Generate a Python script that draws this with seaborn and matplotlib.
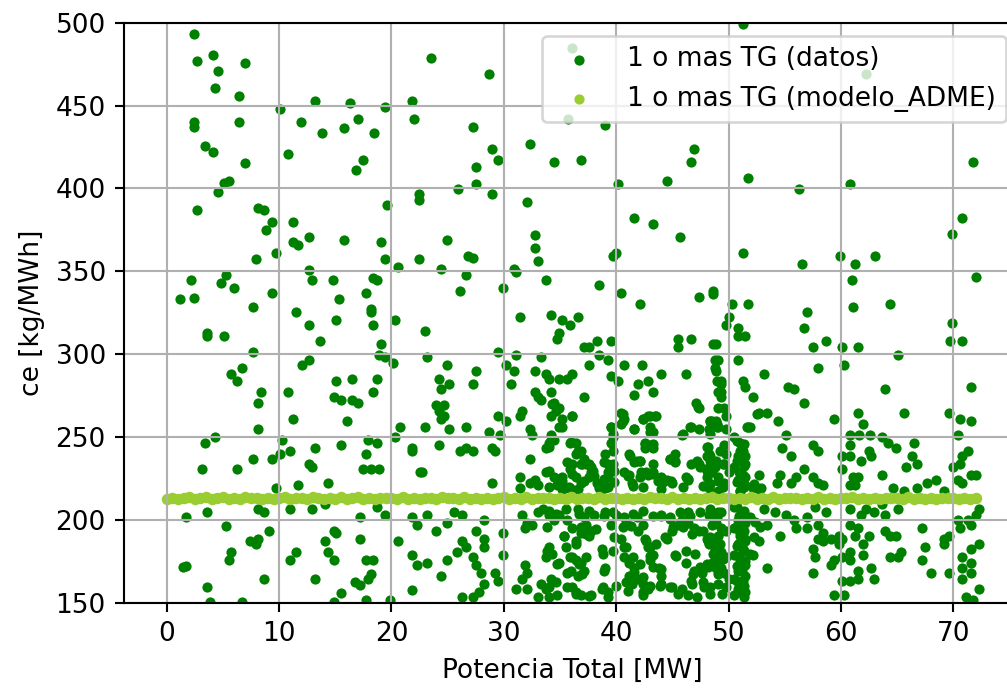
import matplotlib
matplotlib.use("Agg")
import matplotlib.pyplot as plt
import seaborn as sns

# ---------------- data (Potencia [MW], ce [kg/MWh]) ----------------
# region 0-22 MW, upper part
p_a = [2.42, 2.66, 4.09, 4.54, 6.93, 4.33, 6.45, 10.07, 13.2, 16.3,
       19.4, 21.8, 22.0, 2.42, 2.42, 6.45, 11.98, 13.86, 15.8, 17.0,
       18.46, 3.37, 4.09, 6.93, 10.8, 17.5, 16.8, 5.05, 5.53, 4.54,
       2.66, 8.12, 8.63, 9.35, 8.84, 11.24, 12.7, 11.24, 11.7, 15.8,
       19.1, 22.45, 22.45, 19.6, 7.9, 9.74, 12.7, 12.93, 19.4, 20.6,
       22.45, 5.3, 2.15, 4.8, 6.0, 9.35, 14.8, 18.4, 18.7, 17.7,
       1.22, 2.42, 15.3]
ce_a = [493, 477, 480.5, 470.6, 475.4, 460.8, 456, 448, 453, 451.5,
        449, 453, 441.6, 440, 437, 440, 440, 433.4, 436.6, 441.6,
        433.4, 425.4, 422, 415.5, 420.5, 417.3, 411, 403, 404.5, 398,
        386.7, 388.4, 386.7, 380, 375, 380, 370.4, 367.4, 365.8, 369,
        367.4, 396.6, 393, 390, 357.6, 360.8, 351, 344.7, 357.6, 352.7,
        357.6, 348, 344.7, 343, 340, 336.6, 344.7, 346, 344.7, 336.6,
        333, 334, 333]

# region 0-22 MW, lower part
p_b = [7.67, 11.5, 18.2, 18.2, 12.7, 15.1, 18.4, 20.3, 3.6, 3.6,
       5.05, 13.65, 19.1, 7.67, 18.9, 19.4, 20.1, 12.0, 12.7, 5.76,
       6.72, 6.24, 15.1, 16.5, 18.7, 8.4, 8.15, 10.8, 18.4, 14.85,
       15.55, 16.5, 17.0, 11.25, 16.0, 8.15, 20.8, 3.38, 4.33, 10.3,
       15.55, 17.95, 18.7, 20.3, 21.8, 21.8, 11.0, 13.2, 17.7, 7.68,
       9.35, 10.07, 12.7, 12.93, 3.14, 6.24, 17.5, 18.2, 18.9, 22.5,
       11.7, 14.35, 9.74, 8.15, 8.63, 3.61, 11.0, 12.93, 14.1, 18.7,
       19.4, 1.7, 17.2, 21.8, 22.25, 5.3, 14.85, 15.1, 9.1, 7.44,
       7.9, 8.15, 14.1, 17.2, 20.6, 5.76, 5.53, 11.5, 11.0, 14.35,
       14.85, 17.7, 18.4, 21.8, 22.25, 1.46, 1.7, 8.63, 13.2, 3.6,
       16.75, 17.2, 17.95, 18.2, 15.55, 21.8, 6.72, 3.85, 14.85, 17.7,
       19.85]
ce_b = [328.6, 325.4, 327, 325.4, 317.3, 320.6, 317.3, 320.6, 312.5, 311,
        311, 307.7, 306, 301.3, 299.6, 298, 294.8, 293.2, 296.4, 288.3,
        291.6, 283.5, 283.5, 285, 285, 277, 270.7, 277, 277, 274,
        272.3, 272.3, 270.7, 261, 259.4, 254.6, 256.2, 246.5, 249.7, 248.2,
        245, 248.2, 246.5, 249.7, 243.3, 241.7, 241.7, 243.3, 240, 236.9,
        236.9, 240, 233.7, 232, 230.5, 230.5, 230.5, 230.5, 230.5, 228.8,
        220.8, 222.4, 219.2, 206.3, 204.7, 204.7, 206.3, 206.3, 209.5, 208,
        203, 201.5, 201.5, 201.5, 196.6, 196.2, 193.4, 191.8, 193.4, 187,
        185.4, 188.6, 187, 188.6, 187, 180.6, 175.7, 180.6, 175.7, 180.6,
        175.7, 175.7, 175.7, 179, 172.5, 171.3, 172.1, 164.1, 164.1, 159.2,
        162.5, 160.8, 164.1, 167.3, 156, 157.6, 150.5, 150.3, 150.5, 151.6,
        151.6]

# region 22-49 MW, upper part
p_c = [23.5, 28.7, 27.3, 28.97, 29.45, 27.5, 27.5, 25.9, 28.97, 32.3,
       34.5, 36.9, 39.0, 46.9, 46.7, 44.5, 40.2, 32.1, 41.6, 43.3,
       45.7, 24.9, 32.8, 32.8, 33.0, 26.8, 27.3, 39.7, 40.0, 24.4,
       26.6, 30.9, 31.1, 33.75, 26.1, 29.9, 38.5, 40.4, 47.4, 48.6,
       48.6, 36.1, 35.7]
ce_c = [478.7, 469, 436.8, 424, 417.3, 412.7, 402.8, 399.6, 396.4, 427,
        415.7, 417.3, 438.2, 424, 415.7, 404.5, 402.8, 391.6, 381.9, 378.7,
        370.7, 369, 372, 364.2, 356.2, 359.4, 357.8, 359.4, 361, 351.3,
        348, 351.3, 349.5, 344.7, 338.3, 339.9, 341.5, 336.6, 334.2, 338.3,
        336.3, 485, 441.9]

# region 49-72 MW, upper part
p_d = [62.2, 51.3, 71.8, 51.7, 56.3, 60.8, 70.8, 69.9, 51.25, 56.5,
       59.9, 61.3, 63.0, 61.0, 72.0]
ce_d = [469, 499, 415.7, 406, 399.6, 402.8, 381.9, 372.2, 360.8, 354.4,
        359.2, 354.4, 359.2, 344.7, 346.3]

# region 49-72 MW, middle part
p_e = [50.3, 51.7, 50.05, 49.8, 50.8, 50.8, 51.5, 57.0, 56.75, 61.05,
       64.4, 69.9, 69.7, 70.8, 57.5, 58.65, 60.1, 61.5, 65.1, 50.8,
       57.95, 60.3, 53.2, 55.3, 55.8, 63.9, 71.55, 51.25, 51.5, 52.2,
       56.75, 52.7, 53.4, 59.4, 61.5, 62.0, 65.6, 69.65, 70.6, 71.55,
       51.7, 51.9, 54.4, 55.1, 61.65, 62.6, 60.8, 63.7, 64.2, 64.9,
       66.5, 70.4, 54.8, 57.5, 57.95, 55.55, 60.8, 60.8, 60.1, 61.75,
       62.5, 62.7, 66.3, 66.8, 65.8, 71.3, 70.8, 70.6, 70.0, 60.1,
       52.7, 54.6, 56.75, 56.0, 55.55, 54.35, 57.5, 57.95, 58.4, 61.05,
       61.5, 60.8, 61.3, 63.7, 64.6, 65.6, 66.8, 67.7, 68.45, 69.2,
       70.4, 70.8, 71.55, 72.0, 52.2, 52.9]
ce_e = [330.2, 330.2, 322.2, 317.3, 315.7, 311, 311, 325.4, 315.7, 328.6,
        330.2, 319, 307.7, 307.7, 304.5, 307.7, 304.5, 304.5, 299.6, 296.4,
        291.6, 293.2, 288.3, 280.3, 278.7, 278.7, 280.3, 283.5, 280.3, 273.9,
        270.7, 264.2, 264.2, 261, 264.2, 257.8, 264.2, 264.2, 261, 259.4,
        256.2, 256.2, 259.4, 251.4, 251.4, 251.4, 251.4, 249.7, 246.5, 243.3,
        246.5, 251.4, 243.3, 245, 241.7, 238.5, 245, 238.5, 238.5, 235.3,
        241.7, 238.5, 238.5, 233.7, 232, 241.7, 238.5, 233.7, 232, 230.5,
        227.2, 227.2, 230.5, 225.6, 222.4, 222.4, 225.6, 222.4, 220.8, 225.6,
        225.6, 220.8, 220.8, 227.2, 219.2, 217.6, 219.2, 222.4, 224, 217.6,
        224, 222.4, 227.2, 227.2, 219.2, 219.2]

# region 52-72 MW, lower part
p_f = [53.2, 54.1, 55.1, 55.8, 57.0, 57.0, 57.7, 58.65, 56.0, 53.4,
       57.95, 58.4, 59.1, 59.8, 54.6, 52.7, 52.2, 60.8, 61.75, 62.2,
       62.95, 63.7, 63.9, 65.1, 60.8, 61.5, 61.3, 62.5, 62.0, 63.9,
       64.4, 64.9, 67.25, 69.2, 69.65, 69.2, 70.4, 70.6, 71.55, 71.3,
       72.0, 72.3, 72.3, 71.55, 70.8, 71.55, 70.8, 71.55, 70.8, 71.1,
       71.8, 72.3, 67.5, 67.25, 68.0, 69.65, 64.4, 65.1, 65.35, 62.95,
       62.7, 62.0, 60.8, 60.8, 61.5, 61.5, 60.8, 60.1, 59.8, 60.1,
       60.1, 59.4, 60.3, 59.1, 59.4, 57.5, 57.7, 57.5, 57.95, 58.4,
       53.4]
ce_f = [206.3, 204.7, 203, 199.9, 201.5, 195, 208, 204.7, 195, 196.6,
        196.6, 191.8, 188.6, 190.2, 190.2, 187, 179, 206.3, 203, 206.3,
        204.7, 209.5, 203, 206.3, 196.6, 195, 190.2, 190.2, 185.4, 193.4,
        190.2, 190.2, 195, 188.6, 190.2, 185.4, 199.9, 195, 196.6, 199.9,
        203, 206.3, 185.4, 182.2, 177.3, 174.1, 170.9, 167.7, 164.4, 153.2,
        151.6, 158, 183.8, 175.7, 167.7, 167.7, 177.3, 177.3, 180.6, 164.4,
        170.9, 179, 180.6, 175.7, 169.3, 164.4, 162.8, 188.6, 185.4, 177.3,
        162.8, 154.8, 154.8, 172.5, 175.7, 182.2, 177.3, 167.7, 188.6, 187,
        170.9]

# dense column around 49-51.5 MW
p_g = [48.9, 49.1, 48.9, 49.3, 49.1, 49.3, 49.1, 49.6, 49.8, 48.9,
       49.1, 49.8, 49.6, 49.8, 49.6, 48.9, 50.05, 49.1, 49.6, 49.1,
       50.5, 51.0, 51.25, 50.8, 51.5, 50.5, 51.25, 50.8, 51.5, 51.0,
       50.5, 51.25, 50.8, 51.5, 50.5, 51.0, 51.5, 50.8, 51.25, 50.5,
       51.0, 51.5, 50.8, 50.5, 51.25, 50.8, 50.5, 51.5,
       49.1, 48.9, 49.3, 49.1, 49.8, 48.9, 49.3, 49.1, 49.8, 48.9,
       49.6, 50.05, 49.8, 49.1]
ce_g = [306, 296.4, 290, 283.5, 277, 274, 267.5, 267.5, 262.6, 259.4,
        256.2, 254.6, 245, 240, 233.7, 235.3, 228.8, 225.6, 222.4, 217.6,
        249.7, 246.5, 241.7, 238.5, 233.7, 232, 227.2, 224, 220.8, 217.6,
        208, 204.7, 199.9, 198.2, 195, 191.8, 188.6, 185.4, 182.2, 179,
        175.7, 172.5, 169.3, 164.4, 162.8, 158, 154.8, 156.5,
        204.7, 198.2, 195, 190.2, 193.4, 185.4, 180.6, 175.7, 177.3, 170.9,
        167.7, 164.4, 159.7, 161.3]

# region 22-49 MW, 215-330
p_h = [42.1, 31.4, 34.2, 35.2, 35.9, 36.6, 34.95, 34.7, 23.0, 37.1,
       37.6, 38.3, 39.5, 45.5, 45.5, 46.7, 48.6, 29.45, 23.2, 31.1,
       33.3, 38.5, 39.25, 37.6, 24.9, 27.5, 30.15, 30.9, 32.8, 33.75,
       33.99, 34.95, 35.65, 36.1, 40.7, 42.3, 44.0, 46.2, 48.8, 39.5,
       40.2, 41.9, 42.8, 24.2, 24.4, 25.15, 27.3, 30.65, 49.3, 33.0,
       32.8, 33.3, 34.2, 34.5, 34.95, 37.1, 41.6, 43.3, 24.0, 24.7,
       24.2, 24.7, 24.4, 31.4, 31.6, 34.2, 35.2, 34.95, 36.1, 47.1,
       47.35, 40.45, 40.7, 40.45, 42.35, 42.8, 43.5, 43.05, 43.3, 39.5,
       39.7, 41.6, 45.9, 46.65, 47.35, 48.3, 49.0, 48.55, 49.3, 49.0,
       48.8, 23.0, 25.15, 26.6, 28.7, 29.45, 30.15, 29.7, 32.3, 32.55,
       34.2, 34.2, 24.2, 26.1, 26.6, 27.3, 28.97, 29.2, 32.3, 33.75,
       34.0, 34.5, 35.9, 36.4, 36.6, 37.1, 36.85, 36.1, 35.9, 37.3,
       37.8, 37.8, 39.0, 39.25, 39.7, 39.7, 39.5, 41.1, 41.85, 42.1,
       43.3, 42.6, 42.6, 43.05, 43.3, 44.75, 45.2, 45.2, 46.65, 47.35,
       48.05, 48.3, 48.3, 48.8, 22.75, 28.97, 31.4, 31.4, 32.3, 32.8,
       33.0, 33.75, 34.45, 34.7, 35.2, 35.45, 35.9, 36.4, 36.85, 37.55,
       38.3, 38.5, 39.0, 39.25, 40.7, 41.15, 41.4, 42.1, 42.8, 43.3,
       44.0, 44.5, 45.0, 46.2, 46.4, 48.05, 48.3, 48.3]
ce_h = [330.2, 322.2, 323.8, 320.6, 317.3, 322.2, 312.5, 309.3, 314, 304.5,
        304.5, 307.7, 307.7, 309.3, 304.5, 309.3, 306, 301.3, 298, 299.6,
        298, 299.6, 296.4, 293.2, 293.2, 290, 293.2, 290, 290, 288.3,
        285.1, 285.1, 285.1, 288.3, 293.2, 293.2, 288.3, 288.3, 296.4, 286.8,
        283.5, 282, 283.5, 285.1, 278.7, 282, 282, 282, 282, 274,
        277, 272.3, 277, 270.7, 267.5, 274, 275.5, 277, 269, 269,
        265.9, 262.6, 261, 262.6, 265.9, 262.6, 261, 256.2, 262.6, 270.7,
        267.5, 264.2, 261, 257.8, 261, 262.6, 262.6, 256.2, 253, 256.2,
        249.7, 254.6, 251.4, 256.2, 254.6, 254.6, 257.8, 259.4, 277, 283.5,
        291.6, 256.2, 254.6, 256.2, 253, 262.6, 259.4, 251.4, 254.6, 251.4,
        251.4, 248.2, 245, 241.7, 243.3, 241.7, 243.3, 241.7, 236.9, 243.3,
        246.5, 248.2, 246.5, 246.5, 241.7, 236.9, 233.7, 233.7, 230.5, 233.7,
        232, 228.8, 240, 233.7, 233.7, 241.7, 246.5, 240, 235.3, 235.3,
        233.7, 246.5, 243.3, 245, 243.3, 236.9, 235.3, 240, 233.7, 233.7,
        238.5, 240, 232, 232, 228.8, 222.4, 225.6, 219.2, 222.4, 224,
        220.8, 228.8, 225.6, 220.8, 225.6, 219.2, 219.2, 225.6, 222.4, 225.6,
        222.4, 219.2, 219.2, 225.6, 228.8, 227.2, 222.4, 225.6, 227.2, 228.8,
        225.6, 224, 222.4, 225.6, 224, 225.6, 222.4, 219.2]

# region 22-49 MW, 150-210
p_i = [23.2, 25.6, 26.3, 24.9, 24.0, 28.25, 27.5, 28.25, 28.25, 26.3,
       26.6, 25.85, 24.9, 23.2, 24.4, 27.3, 27.5, 28.0, 28.25, 27.8,
       27.3, 26.3, 29.2, 29.45, 29.9, 29.9, 31.6, 32.1, 31.85, 32.55,
       33.0, 31.85, 32.1, 31.6, 31.1, 32.1, 33.3, 33.75, 33.0, 34.0,
       34.7, 34.0, 33.75, 34.2, 34.95, 33.5, 34.0, 34.45, 34.95, 35.65,
       35.4, 36.1, 36.4, 36.6, 37.1, 37.35, 37.55, 36.85, 37.8, 38.05,
       35.9, 36.4, 36.85, 37.1, 36.6, 35.65, 36.1, 36.4, 36.85, 37.8,
       38.75, 39.0, 38.75, 39.25, 39.0, 39.95, 39.5, 40.7, 40.9, 40.45,
       40.9, 40.7, 41.15, 41.6, 41.15, 41.85, 41.4, 42.35, 41.85, 42.35,
       42.6, 42.8, 43.3, 43.05, 43.8, 44.0, 42.35, 42.8, 44.0, 45.0,
       45.9, 44.0, 44.75, 44.5, 45.0, 45.5, 45.9, 46.4, 45.2, 46.2,
       46.9, 47.6, 46.65, 47.85, 46.4, 47.35, 48.05, 48.3, 48.8, 49.0,
       48.55, 49.3, 48.55, 49.0, 49.3, 48.3, 46.9, 46.4]
ce_i = [203, 204.7, 203, 198.2, 193.4, 199.9, 193.4, 188.6, 183.8, 187,
        183.8, 180.6, 175.7, 174.1, 166, 177.3, 172.5, 167.7, 161.3, 156.3,
        153.2, 153.2, 167.7, 162.8, 179, 191.8, 203, 198.2, 195, 196.6,
        204.7, 172.5, 167.7, 164.4, 158, 158, 161.3, 158, 153.2, 153.2,
        154.8, 183.8, 177.3, 164.4, 174.1, 206.3, 203, 199.9, 203, 199.9,
        190.2, 195, 185.4, 206.3, 201.5, 196.6, 190.2, 191.8, 193.4, 203,
        177.3, 175.7, 174.1, 169.3, 166, 167.7, 159.7, 156.5, 154.8, 154.8,
        182.2, 170.9, 158, 156.5, 204.7, 203, 196.6, 201.5, 198.2, 188.6,
        183.8, 177.3, 174.1, 170.9, 166, 164.4, 161.3, 161.3, 201.5, 196.6,
        188.6, 183.8, 179, 175.7, 170.9, 166, 154.8, 158, 161.3, 159.7,
        158, 203, 201.5, 188.6, 193.4, 196.6, 199.9, 204.7, 179, 174.1,
        169.3, 167.7, 162.8, 159.7, 154.8, 193.4, 188.6, 185.4, 182.2, 177.3,
        174.1, 170.9, 196.6, 201.5, 204.7, 203, 195, 198.2]

# dense core 34-48 MW, 150-270 (second reading)
p_j = [34.32, 36.11, 34.61, 35.21, 34.02, 35.96, 39.54, 39.69, 40.59, 40.59,
       41.63, 42.38, 42.98, 43.58, 42.98, 42.53, 43.28, 45.96, 46.56, 47.31,
       48.35, 48.35, 48.06, 35.66, 36.41, 36.85, 37.0, 37.6, 37.9, 36.11,
       34.76, 34.02, 35.21, 37.15, 38.05, 38.95, 39.24, 38.95, 39.84, 41.19,
       41.63, 42.08, 41.04, 42.23, 42.68, 43.28, 43.72, 44.17, 44.92, 44.77,
       45.22, 46.41, 47.16, 47.46, 48.06, 48.35, 34.02, 35.21, 35.81, 36.56,
       38.65, 39.24, 39.84, 41.48, 42.38, 44.02, 45.96, 47.76, 34.02, 34.61,
       35.51, 36.71, 37.6, 38.95, 39.69, 41.48, 42.38, 43.28, 44.02, 44.77,
       45.67, 46.56, 47.46, 48.35, 33.87, 35.36, 36.85, 37.3, 36.41, 38.2,
       40.59, 39.84, 41.33, 41.93, 42.68, 42.98, 43.58, 44.32, 45.07, 45.96,
       46.71, 47.76, 48.2, 34.32, 35.51, 36.11, 36.71, 37.3, 37.0, 35.96,
       34.76, 33.87, 38.8, 39.69, 40.74, 41.48, 42.08, 41.63, 42.38, 42.98,
       43.28, 44.02, 45.37, 46.26, 47.01, 47.46, 46.86, 48.06, 34.61, 34.02,
       35.66, 36.41, 37.6, 38.95, 38.8, 39.24, 39.99, 40.89, 41.04, 42.38,
       42.98, 43.87, 44.77, 45.52, 46.71, 47.76, 48.35, 47.16]
ce_j = [269.9, 262.8, 265.9, 255.8, 243.7, 246.8, 255.8, 251.8, 263.9, 259.8,
        254.8, 260.8, 262.8, 262.8, 252.8, 245.7, 245.7, 251.8, 255.8, 267.9,
        259.8, 251.8, 243.7, 234.7, 239.7, 241.7, 233.7, 233.7, 229.7, 227.6,
        224.6, 229.7, 223.6, 223.6, 226.6, 234.7, 228.6, 224.6, 229.7, 238.7,
        234.7, 235.7, 226.6, 228.6, 228.6, 227.6, 223.6, 222.6, 223.6, 236.7,
        234.7, 224.6, 235.7, 231.7, 229.7, 238.7, 219.6, 218.6, 219.6, 218.6,
        218.6, 219.6, 222.6, 220.6, 219.6, 218.6, 219.6, 220.6, 205.5, 203.5,
        206.5, 203.5, 205.5, 202.5, 204.5, 203.5, 205.5, 202.5, 202.5, 200.5,
        204.5, 202.5, 204.5, 206.5, 195.5, 190.4, 195.5, 191.4, 187.4, 194.5,
        195.5, 189.4, 196.5, 193.4, 187.4, 183.4, 185.4, 189.4, 195.5, 195.5,
        191.4, 193.4, 187.4, 179.4, 183.4, 177.4, 173.3, 177.4, 167.3, 169.3,
        173.3, 181.4, 179.4, 181.4, 183.4, 177.4, 173.3, 168.3, 165.3, 178.4,
        171.3, 170.3, 178.4, 181.4, 179.4, 171.3, 167.3, 173.3, 162.3, 159.3,
        159.3, 155.2, 154.2, 169.3, 159.3, 153.2, 160.3, 162.3, 157.2, 156.2,
        160.3, 160.3, 159.3, 155.2, 161.3, 162.3, 155.2, 153.2]

# dense column 48-53 MW (second reading)
p_k = [50.75, 51.35, 51.05, 51.5, 50.75, 51.35, 50.9, 51.5, 50.75, 51.35,
       51.05,
       50.75, 51.35, 50.9, 51.5, 50.75, 51.35, 51.05, 51.5, 50.75, 51.35,
       50.9, 51.5, 50.75, 51.2, 51.5, 50.75, 51.35, 50.9, 51.35,
       48.36, 48.95, 48.21, 49.25, 48.36, 49.55, 48.51, 49.1, 48.36, 49.55,
       48.66, 49.4, 48.36, 49.25, 48.66, 49.55, 48.21, 49.1, 48.36, 49.4,
       52.54, 51.64, 52.24, 52.69, 51.94, 52.39, 52.84, 51.94, 52.24]
ce_k = [247.8, 245.7, 241.7, 238.7, 235.7, 232.7, 228.6, 225.6, 222.6, 219.6,
        217.6,
        207.5, 205.5, 202.5, 199.5, 196.5, 193.4, 190.4, 187.4, 184.4, 181.4,
        178.4, 175.3, 172.3, 169.3, 166.3, 163.3, 160.3, 156.2, 153.2,
        259.8, 255.8, 243.7, 241.7, 235.7, 233.7, 228.6, 223.6, 221.6, 219.6,
        197.5, 193.4, 189.4, 185.4, 179.4, 176.3, 171.3, 167.3, 159.3, 155.2,
        263.9, 255.8, 221.6, 218.6, 201.5, 198.5, 195.5, 179.4, 189.4]

potencia_datos = p_a + p_b + p_c + p_d + p_e + p_f + p_g + p_h + p_i + p_j + p_k
ce_datos = ce_a + ce_b + ce_c + ce_d + ce_e + ce_f + ce_g + ce_h + ce_i + ce_j + ce_k
assert len(potencia_datos) == len(ce_datos)

# model (modelo_ADME): nearly constant ce over the power range
potencia_modelo = [
    0.0, 0.5, 1.0, 1.5, 2.0, 2.5, 3.0, 3.5, 4.0, 4.5,
    5.0, 5.5, 6.0, 6.5, 7.0, 7.5, 8.0, 8.5, 9.0, 9.5,
    10.0, 10.5, 11.0, 11.5, 12.0, 12.5, 13.0, 13.5, 14.0, 14.5,
    15.0, 15.5, 16.0, 16.5, 17.0, 17.5, 18.0, 18.5, 19.0, 19.5,
    20.0, 20.5, 21.0, 21.5, 22.0, 22.5, 23.0, 23.5, 24.0, 24.5,
    25.0, 25.5, 26.0, 26.5, 27.0, 27.5, 28.0, 28.5, 29.0, 29.5,
    30.0, 30.5, 31.0, 31.5, 32.0, 32.5, 33.0, 33.5, 34.0, 34.5,
    35.0, 35.5, 36.0, 36.5, 37.0, 37.5, 38.0, 38.5, 39.0, 39.5,
    40.0, 40.5, 41.0, 41.5, 42.0, 42.5, 43.0, 43.5, 44.0, 44.5,
    45.0, 45.5, 46.0, 46.5, 47.0, 47.5, 48.0, 48.5, 49.0, 49.5,
    50.0, 50.5, 51.0, 51.5, 52.0, 52.5, 53.0, 53.5, 54.0, 54.5,
    55.0, 55.5, 56.0, 56.5, 57.0, 57.5, 58.0, 58.5, 59.0, 59.5,
    60.0, 60.5, 61.0, 61.5, 62.0, 62.5, 63.0, 63.5, 64.0, 64.5,
    65.0, 65.5, 66.0, 66.5, 67.0, 67.5, 68.0, 68.5, 69.0, 69.5,
    70.0, 70.5, 71.0, 71.5, 72.0]
ce_modelo = [
    212.8, 213.4, 212.5, 213.1, 213.7, 212.6, 212.9, 213.5, 212.3, 213.0,
    213.6, 212.7, 213.2, 212.4, 213.8, 212.9, 213.1, 212.5, 213.4, 212.8,
    213.0, 213.6, 212.4, 212.9, 213.3, 212.6, 213.7, 213.0, 212.5, 213.2,
    212.8, 213.5, 212.3, 213.1, 213.6, 212.7, 213.0, 212.4, 213.4, 212.9,
    213.2, 212.6, 213.7, 212.8, 213.1, 212.5, 213.3, 213.0, 212.4, 213.5,
    212.9, 213.2, 212.6, 213.6, 212.8, 213.0, 212.3, 213.4, 212.7, 213.1,
    213.5, 212.5, 213.0, 212.8, 213.6, 212.4, 213.2, 212.9, 213.4, 212.6,
    213.1, 212.8, 213.7, 212.5, 213.0, 213.3, 212.7, 213.5, 212.4, 212.9,
    213.2, 212.6, 213.4, 212.8, 213.0, 212.5, 213.6, 212.9, 213.1, 212.3,
    213.5, 212.7, 213.2, 212.8, 213.4, 212.6, 213.0, 213.7, 212.5, 212.9,
    213.3, 212.6, 213.1, 212.4, 213.5, 212.8, 213.0, 212.7, 213.6, 212.5,
    213.2, 212.9, 213.4, 212.6, 213.0, 212.8, 213.5, 212.4, 213.1, 212.7,
    213.3, 212.9, 213.6, 212.5, 213.0, 212.8, 213.2, 212.6, 213.4, 212.9,
    213.1, 212.5, 213.5, 212.7, 213.0, 212.8, 213.3, 212.6, 213.2, 212.9,
    213.4, 212.7, 213.0, 212.8, 213.1]
assert len(potencia_modelo) == len(ce_modelo)

x_ticks = [0, 10, 20, 30, 40, 50, 60, 70]
y_ticks = [150, 200, 250, 300, 350, 400, 450, 500]

label_datos = "1 o mas TG (datos)"
label_modelo = "1 o mas TG (modelo_ADME)"

# ---------------- figure ----------------
DPI = 190
W, H = 1008, 688
fig = plt.figure(figsize=(W / DPI, H / DPI), dpi=DPI)
ax_left, ax_right, ax_top, ax_bottom = 124.3, 1019.5, 22.7, 602.7
ax = fig.add_axes([ax_left / W, 1 - ax_bottom / H,
                   (ax_right - ax_left) / W, (ax_bottom - ax_top) / H])

sns.scatterplot(x=potencia_datos, y=ce_datos, ax=ax, color="green",
                s=15, linewidth=0, label=label_datos)
sns.scatterplot(x=potencia_modelo, y=ce_modelo, ax=ax, color="yellowgreen",
                s=19, linewidth=0, label=label_modelo)

ax.set_xlim(-3.78, 75.9)
ax.set_ylim(150, 500)
ax.set_xticks(x_ticks)
ax.set_yticks(y_ticks)
ax.grid(True, color="#b0b0b0", linewidth=0.8)
ax.set_xlabel("Potencia Total [MW]")
ax.set_ylabel("ce [kg/MWh]")
leg = ax.legend(loc="upper right", fontsize=10)
for h in leg.legend_handles:
    h.set_sizes([15])

fig.savefig("out.png", dpi=DPI)
